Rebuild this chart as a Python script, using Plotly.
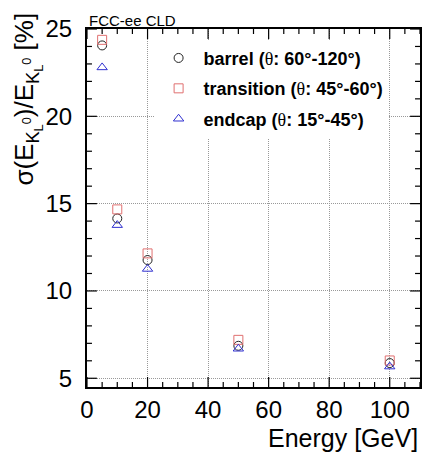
import plotly.graph_objects as go

energy = [5, 10, 20, 50, 100]
barrel = [24.06, 14.15, 11.77, 6.86, 5.87]
transition = [24.38, 14.67, 12.15, 7.20, 6.02]
endcap = [22.80, 13.77, 11.26, 6.69, 5.67]

theta = "<span style='font-family:Liberation Serif;font-weight:normal'>θ</span>"
labels = [f"<b>barrel ({theta}: 60°-120°)</b>",
          f"<b>transition ({theta}: 45°-60°)</b>",
          f"<b>endcap ({theta}: 15°-45°)</b>"]

x_range = [0, 110]
y_range = [4.5, 25]
x_major = list(range(0, 101, 20))
x_minor = [v for v in range(0, 111, 5) if v not in x_major]
y_major = list(range(5, 26, 5))
y_minor = [v for v in range(5, 26) if v not in y_major]

W, H = 423, 457
M = dict(l=87, r=1, t=29, b=70)
pw = W - M["l"] - M["r"]
ph = H - M["t"] - M["b"]

fig = go.Figure()
styles = [(barrel, "circle-open", "#222222"),
          (transition, "square-open", "#E07070"),
          (endcap, "triangle-up-open", "#3030D0")]
for i, (vals, sym, col) in enumerate(styles):
    fig.add_trace(go.Scatter(x=energy, y=vals, mode="markers", name=labels[i],
                             legendgroup=str(i),
                             marker=dict(symbol=sym, size=9, color=col, line=dict(width=1, color=col))))

tickfont = dict(size=24, color="black")
common = dict(showline=True, linecolor="black", linewidth=2, mirror=True,
              ticks="", showgrid=True, gridcolor="#999999", griddash="1px,1px", gridwidth=1,
              zeroline=False, tickfont=tickfont)

# tick marks (ROOT style, inside on all four sides)
shapes = []
tick_line = dict(color="black", width=1.2)
for vals, ln in ((x_major, 10), (x_minor, 5)):
    for v in vals:
        for y0, y1 in ((0, ln / ph), (1, 1 - ln / ph)):
            shapes.append(dict(type="line", xref="x", yref="y domain", x0=v, x1=v,
                               y0=y0, y1=y1, line=tick_line, layer="above"))
for vals, ln in ((y_major, 10), (y_minor, 5)):
    for v in vals:
        for x0, x1 in ((0, ln / pw), (1, 1 - ln / pw)):
            shapes.append(dict(type="line", yref="y", xref="x domain", y0=v, y1=v,
                               x0=x0, x1=x1, line=tick_line, layer="above"))

fig.update_layout(
    width=W, height=H,
    margin=M,
    paper_bgcolor="white", plot_bgcolor="white",
    font=dict(family="Liberation Sans, Arial, sans-serif", color="black"),
    xaxis=dict(range=x_range, tickvals=x_major, **common),
    yaxis=dict(range=y_range, tickvals=y_major, ticklabelstandoff=8, **common),
    shapes=shapes,
    showlegend=True,
    legend=dict(x=0.2, y=0.97, xanchor="left", yanchor="top", bgcolor="white",
                font=dict(size=18, color="black"), tracegroupgap=4,
                borderwidth=0, itemwidth=40),
    annotations=[
        dict(text="FCC-ee CLD", xref="paper", yref="paper", x=0, y=1.0, xanchor="left",
             yanchor="bottom", showarrow=False, font=dict(size=15), yshift=-2),
        dict(text="Energy [GeV]", xref="paper", yref="paper", x=1.0, y=0, xanchor="right",
             yanchor="top", showarrow=False, font=dict(size=25), yshift=-35),
        dict(text="σ(E<sub>K<sub>L</sub><sup>0</sup></sub>)/E<sub>K<sub>L</sub><sup>0</sup></sub> [%]",
             xref="paper", yref="paper", x=0, y=1.05, xanchor="right", yanchor="top",
             textangle=-90, showarrow=False, font=dict(size=26), xshift=-40),
    ],
)

fig.write_html("out.html", config={"displayModeBar": False},
               post_script="document.body.style.margin='0';document.body.style.overflow='hidden';")
